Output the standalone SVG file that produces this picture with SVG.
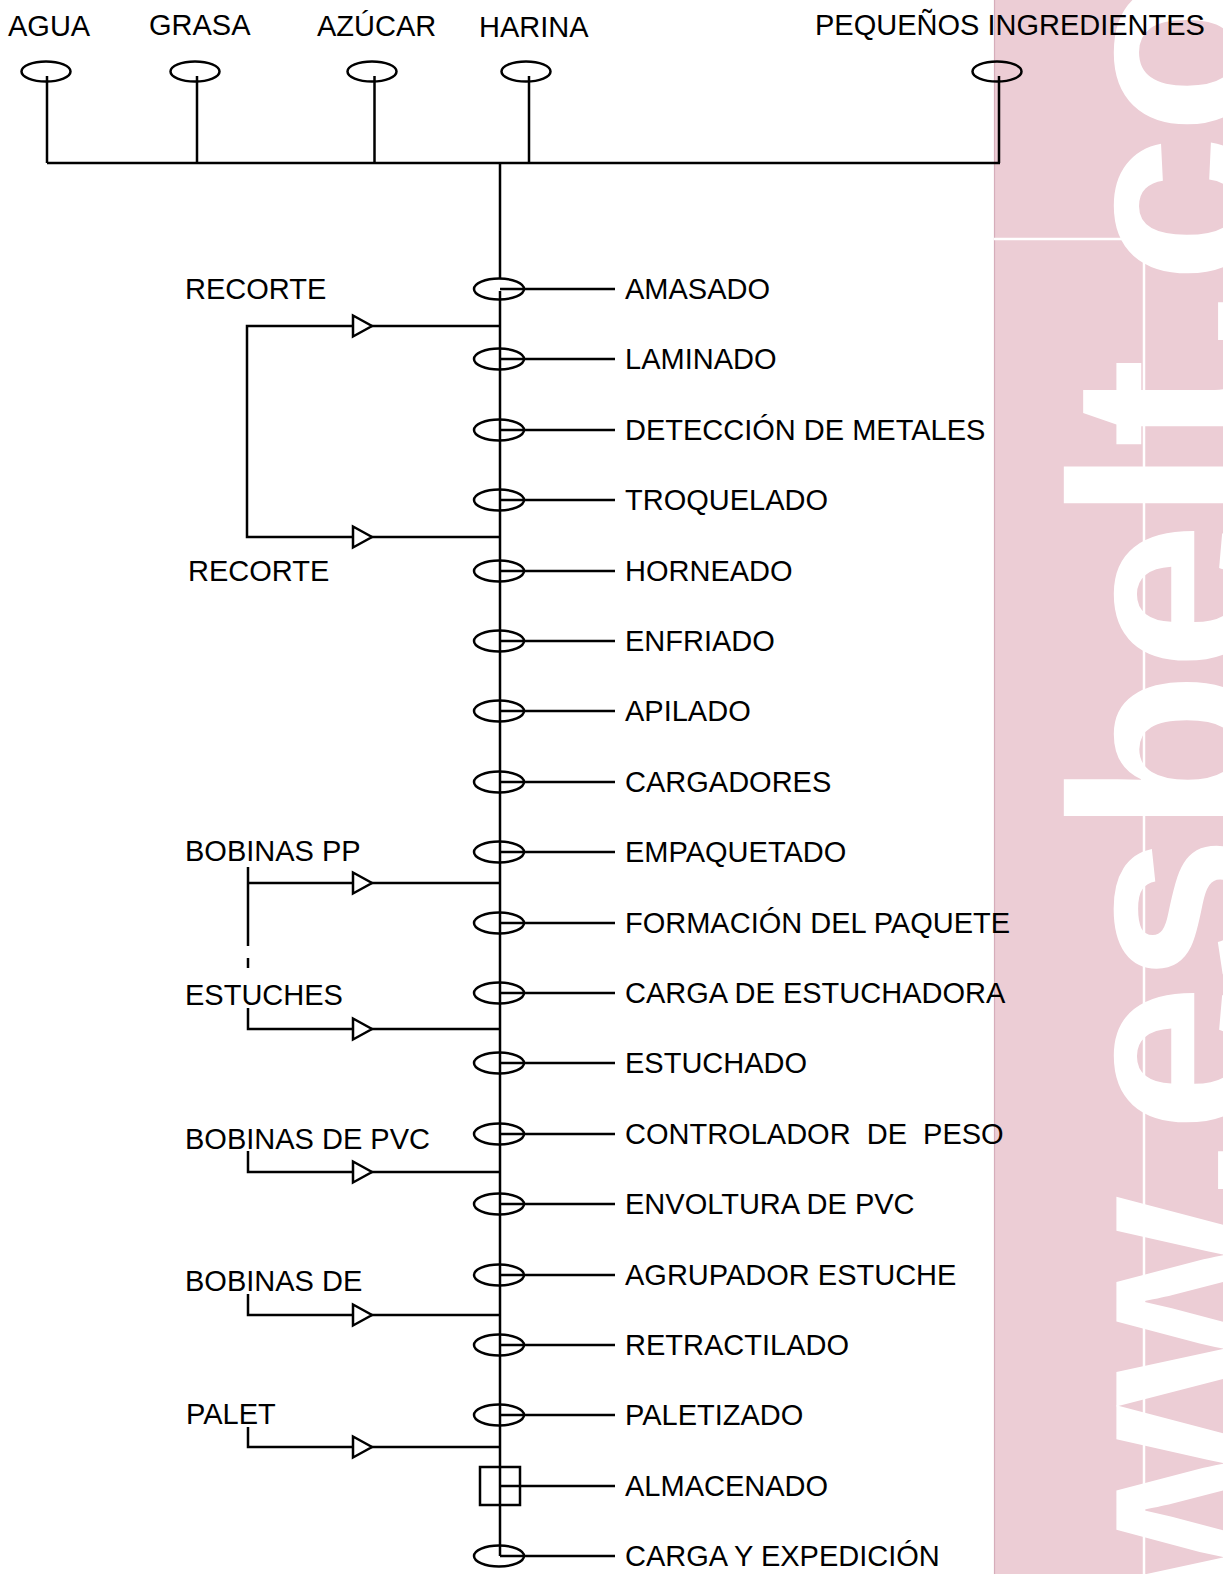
<svg xmlns="http://www.w3.org/2000/svg" xmlns:xlink="http://www.w3.org/1999/xlink" width="1223" height="1574" viewBox="0 0 1223 1574">
<style>
.ln{stroke:#000;stroke-width:2.5;fill:none}
.el{stroke:#000;stroke-width:2.5;fill:none}
.bx{stroke:#000;stroke-width:2.5;fill:none}
.t{font-family:"Liberation Sans",Arial,Helvetica,sans-serif;font-size:29px;fill:#000;white-space:pre}
.tri{stroke:#000;stroke-width:2.5;fill:#fff}
.wm{font-family:"Liberation Sans",Arial,Helvetica,sans-serif;font-weight:bold;font-size:268px;fill:#fff}
</style>
<defs>
<path id="tri" d="M0,-10.5 L19,0 L0,10.5 Z"/>
</defs>
<rect width="1223" height="1574" fill="#fff"/>
<g id="watermark">
<rect x="994" y="0" width="229" height="1574" fill="#eccdd5"/>
<line x1="994.5" y1="0" x2="994.5" y2="1574" stroke="#d6adba" stroke-width="1.2"/>
<line x1="994" y1="239" x2="1145" y2="239" stroke="#fff" stroke-width="2.5"/>
<line x1="1144" y1="239" x2="1144" y2="1574" stroke="#fff" stroke-width="2.5"/>
<text class="wm" transform="translate(1258,1822.7) rotate(-90)">www.esbelt.com</text>
</g>
<g id="connectors">
<path class="ln" d="M47,163 H1000"/>
<path class="ln" d="M47,76 V163 M197,76 V163 M374.5,76 V163 M529,76 V163 M999,76 V163"/>
<path class="ln" d="M500,163 V278 M500,291 V1556"/>
<path class="ln" d="M500,326 H247 V537 H500"/>
<path class="ln" d="M248,867 V946 M248,958 V968 M248,883 H500"/>
<path class="ln" d="M248,1008 V1029 H500"/>
<path class="ln" d="M248,1151 V1172 H500"/>
<path class="ln" d="M248,1294 V1315 H500"/>
<path class="ln" d="M248,1427 V1447 H500"/>
<use xlink:href="#tri" class="tri" x="353" y="326"/>
<use xlink:href="#tri" class="tri" x="353" y="537"/>
<use xlink:href="#tri" class="tri" x="353" y="883"/>
<use xlink:href="#tri" class="tri" x="353" y="1029"/>
<use xlink:href="#tri" class="tri" x="353" y="1172"/>
<use xlink:href="#tri" class="tri" x="353" y="1315"/>
<use xlink:href="#tri" class="tri" x="353" y="1447"/>
</g>
<g id="in-agua"><ellipse class="el" cx="46" cy="71.5" rx="24.5" ry="10"/><text class="t" x="8" y="36">AGUA</text></g>
<g id="in-grasa"><ellipse class="el" cx="195" cy="71.5" rx="24.5" ry="10"/><text class="t" x="149" y="35">GRASA</text></g>
<g id="in-azucar"><ellipse class="el" cx="372" cy="71.5" rx="24.5" ry="10"/><text class="t" x="317" y="36">AZÚCAR</text></g>
<g id="in-harina"><ellipse class="el" cx="526" cy="71.5" rx="24.5" ry="10"/><text class="t" x="479" y="37">HARINA</text></g>
<g id="in-peq"><ellipse class="el" cx="997" cy="71.5" rx="24.5" ry="10"/><text class="t" x="815" y="35">PEQUEÑOS INGREDIENTES</text></g>
<g id="lbl-recorte1"><text class="t" x="185" y="298.5">RECORTE</text></g>
<g id="lbl-recorte2"><text class="t" x="188" y="580.5">RECORTE</text></g>
<g id="lbl-bobinaspp"><text class="t" x="185" y="861">BOBINAS PP</text></g>
<g id="lbl-estuches"><text class="t" x="185" y="1004.5">ESTUCHES</text></g>
<g id="lbl-bobinaspvc"><text class="t" x="185" y="1149">BOBINAS DE PVC</text></g>
<g id="lbl-bobinasde"><text class="t" x="185" y="1290.5">BOBINAS DE</text></g>
<g id="lbl-palet"><text class="t" x="186" y="1424">PALET</text></g>
<g id="p-amasado"><ellipse class="el" cx="499" cy="289" rx="25" ry="10.5"/><path class="ln" d="M500,289 H615"/><text class="t" x="625" y="299.4">AMASADO</text></g>
<g id="p-laminado"><ellipse class="el" cx="499" cy="359" rx="25" ry="10.5"/><path class="ln" d="M500,359 H615"/><text class="t" x="625" y="369.4">LAMINADO</text></g>
<g id="p-deteccion"><ellipse class="el" cx="499" cy="430" rx="25" ry="10.5"/><path class="ln" d="M500,430 H615"/><text class="t" x="625" y="440.4">DETECCIÓN DE METALES</text></g>
<g id="p-troquelado"><ellipse class="el" cx="499" cy="500" rx="25" ry="10.5"/><path class="ln" d="M500,500 H615"/><text class="t" x="625" y="510.4">TROQUELADO</text></g>
<g id="p-horneado"><ellipse class="el" cx="499" cy="571" rx="25" ry="10.5"/><path class="ln" d="M500,571 H615"/><text class="t" x="625" y="581.4">HORNEADO</text></g>
<g id="p-enfriado"><ellipse class="el" cx="499" cy="641" rx="25" ry="10.5"/><path class="ln" d="M500,641 H615"/><text class="t" x="625" y="651.4">ENFRIADO</text></g>
<g id="p-apilado"><ellipse class="el" cx="499" cy="711" rx="25" ry="10.5"/><path class="ln" d="M500,711 H615"/><text class="t" x="625" y="721.4">APILADO</text></g>
<g id="p-cargadores"><ellipse class="el" cx="499" cy="782" rx="25" ry="10.5"/><path class="ln" d="M500,782 H615"/><text class="t" x="625" y="792.4">CARGADORES</text></g>
<g id="p-empaquetado"><ellipse class="el" cx="499" cy="852" rx="25" ry="10.5"/><path class="ln" d="M500,852 H615"/><text class="t" x="625" y="862.4">EMPAQUETADO</text></g>
<g id="p-formacion"><ellipse class="el" cx="499" cy="923" rx="25" ry="10.5"/><path class="ln" d="M500,923 H615"/><text class="t" x="625" y="933.4">FORMACIÓN DEL PAQUETE</text></g>
<g id="p-cargaest"><ellipse class="el" cx="499" cy="993" rx="25" ry="10.5"/><path class="ln" d="M500,993 H615"/><text class="t" x="625" y="1003.4">CARGA DE ESTUCHADORA</text></g>
<g id="p-estuchado"><ellipse class="el" cx="499" cy="1063" rx="25" ry="10.5"/><path class="ln" d="M500,1063 H615"/><text class="t" x="625" y="1073.4">ESTUCHADO</text></g>
<g id="p-controlador"><ellipse class="el" cx="499" cy="1134" rx="25" ry="10.5"/><path class="ln" d="M500,1134 H615"/><text class="t" x="625" y="1144.4">CONTROLADOR  DE  PESO</text></g>
<g id="p-envoltura"><ellipse class="el" cx="499" cy="1204" rx="25" ry="10.5"/><path class="ln" d="M500,1204 H615"/><text class="t" x="625" y="1214.4">ENVOLTURA DE PVC</text></g>
<g id="p-agrupador"><ellipse class="el" cx="499" cy="1275" rx="25" ry="10.5"/><path class="ln" d="M500,1275 H615"/><text class="t" x="625" y="1285.4">AGRUPADOR ESTUCHE</text></g>
<g id="p-retractilado"><ellipse class="el" cx="499" cy="1345" rx="25" ry="10.5"/><path class="ln" d="M500,1345 H615"/><text class="t" x="625" y="1355.4">RETRACTILADO</text></g>
<g id="p-paletizado"><ellipse class="el" cx="499" cy="1415" rx="25" ry="10.5"/><path class="ln" d="M500,1415 H615"/><text class="t" x="625" y="1425.4">PALETIZADO</text></g>
<g id="p-almacenado"><rect class="bx" x="480" y="1467" width="40" height="38"/><path class="ln" d="M500,1486 H615"/><text class="t" x="625" y="1496.4">ALMACENADO</text></g>
<g id="p-carga"><ellipse class="el" cx="499" cy="1556" rx="25" ry="10.5"/><path class="ln" d="M500,1556 H615"/><text class="t" x="625" y="1566.4">CARGA Y EXPEDICIÓN</text></g>
</svg>
